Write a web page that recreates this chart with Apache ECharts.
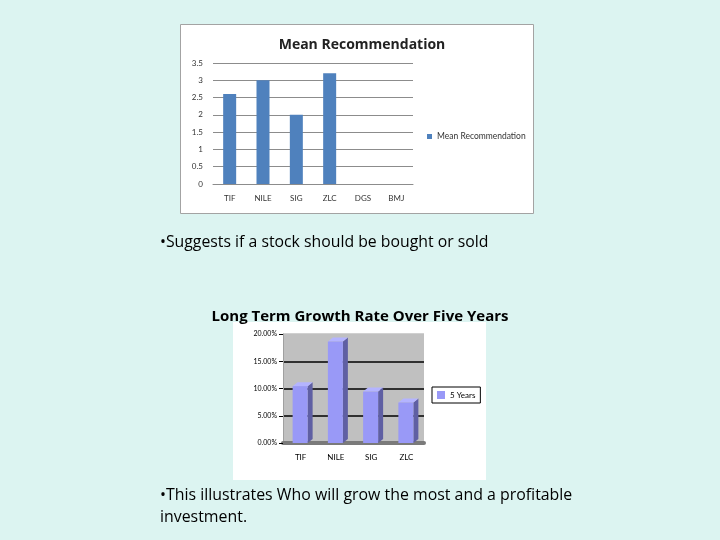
<!DOCTYPE html>
<html>
<head>
<meta charset="utf-8">
<script src="https://cdn.jsdelivr.net/npm/echarts@6/dist/echarts.min.js"></script>
<style>
  html, body { margin: 0; padding: 0; background: #dcf4f1; }
  #chart { width: 720px; height: 540px; }
</style>
</head>
<body>
<div id="chart"></div>
<script>
// chart 1: mean recommendation
const stocks = ['TIF', 'NILE', 'SIG', 'ZLC', 'DGS', 'BMJ']
const meanRec = [2.6, 3.0, 2.0, 3.2, 0, 0]

// chart 2: long term growth rate (percent)
const growthStocks = ['TIF', 'NILE', 'SIG', 'ZLC']
const growth5y = [10.8, 19.0, 9.8, 7.8]

const font = '"Open Sans"'
const smallFont = 'Lato'

const chart = echarts.init(document.getElementById('chart'))

// fake 3d column: front face, side face and top face
function column3d (params, api) {
  const p = api.coord([api.value(0), api.value(1)])
  const base = api.coord([api.value(0), 0])
  const w = 15
  const d = 5
  const x0 = p[0] - 8
  const top = p[1] + 2
  const y0 = base[1]
  return {
    type: 'group',
    children: [
      {
        type: 'polygon',
        shape: { points: [[x0 + w, top], [x0 + w + d, top - 4], [x0 + w + d, y0 - 4], [x0 + w, y0]] },
        style: { fill: '#5f5fa3' },
      },
      {
        type: 'polygon',
        shape: { points: [[x0, top], [x0 + d, top - 4], [x0 + w + d, top - 4], [x0 + w, top]] },
        style: { fill: '#b4b4ff' },
      },
      {
        type: 'rect',
        shape: { x: x0, y: top, width: w, height: y0 - top },
        style: { fill: '#9999f7' },
      },
    ],
  }
}

const option = {
  backgroundColor: '#dcf4f1',
  animation: false,
  textStyle: { fontFamily: smallFont },
  graphic: [
    {
      type: 'rect', z: -10,
      shape: { x: 180.5, y: 24.5, width: 353, height: 189 },
      style: { fill: '#fff', stroke: '#a3a3a3', lineWidth: 1 },
    },
    {
      type: 'rect', z: -10,
      shape: { x: 233, y: 322, width: 253, height: 158 },
      style: { fill: '#fff' },
    },
    {
      type: 'text', left: 160, top: 234,
      style: { text: '•Suggests if a stock should be bought or sold', font: '15.8px ' + font, fill: '#000' },
    },
    {
      type: 'text', left: 160, top: 484,
      style: {
        text: '•This illustrates Who will grow the most and a profitable\ninvestment.',
        font: '15.9px ' + font, fill: '#000', lineHeight: 22,
      },
    },
  ],
  title: [
    {
      text: 'Mean Recommendation',
      left: 357, top: 33, textAlign: 'center',
      textStyle: { fontFamily: font, fontSize: 14, fontWeight: 'bold', color: '#222' },
    },
    {
      text: 'Long Term Growth Rate Over Five Years',
      left: 355, top: 304, textAlign: 'center',
      textStyle: { fontFamily: font, fontSize: 15, fontWeight: 'bold', color: '#000' },
    },
  ],
  legend: [
    {
      left: 422, top: 127,
      itemWidth: 5, itemHeight: 5, itemGap: 3,
      textStyle: { fontSize: 8.5, color: '#333', fontFamily: smallFont },
      data: [{ name: 'Mean Recommendation', icon: 'rect' }],
    },
    {
      left: 432, top: 387,
      padding: [4, 5],
      itemWidth: 8, itemHeight: 8, itemGap: 4,
      borderColor: '#000', borderWidth: 1, backgroundColor: '#fff',
      textStyle: { fontSize: 8, color: '#000', fontFamily: smallFont },
      data: [{ name: '5 Years', icon: 'rect', itemStyle: { color: '#9999f7' } }],
    },
  ],
  grid: [
    { left: 213, top: 63, width: 200, height: 121 },
    {
      left: 283, top: 334, width: 141, height: 109,
      show: true, backgroundColor: '#c0c0c0', borderWidth: 0,
    },
  ],
  xAxis: [
    {
      type: 'category', gridIndex: 0, data: stocks,
      axisLine: { lineStyle: { color: '#8c8c8c' } },
      axisTick: { length: 4, lineStyle: { color: '#8c8c8c' } },
      axisLabel: { fontSize: 8, color: '#333', margin: 10 },
    },
    {
      type: 'category', gridIndex: 1, data: growthStocks,
      axisLine: { lineStyle: { color: '#7a7a7a', width: 4 } },
      axisTick: { length: 4, lineStyle: { color: '#000' } },
      axisLabel: { fontSize: 8, color: '#000', margin: 10 },
    },
  ],
  yAxis: [
    {
      type: 'value', gridIndex: 0, min: 0, max: 3.5, interval: 0.5,
      axisLine: { show: false },
      axisTick: { show: false },
      axisLabel: { fontSize: 8, color: '#333', margin: 10 },
      splitLine: { lineStyle: { color: '#8c8c8c' } },
    },
    {
      type: 'value', gridIndex: 1, min: 0, max: 20, interval: 5,
      axisLine: { show: true, lineStyle: { color: '#a0a0a0' } },
      axisTick: { show: true, length: 4, lineStyle: { color: '#000' } },
      axisLabel: { fontSize: 7, color: '#000', margin: 6, formatter: (v) => v.toFixed(2) + '%' },
      splitLine: { lineStyle: { color: ['#000', '#000', '#000', '#000', '#c0c0c0'], width: 1.5 } },
    },
  ],
  series: [
    {
      name: 'Mean Recommendation',
      type: 'bar',
      xAxisIndex: 0, yAxisIndex: 0,
      barWidth: 13,
      itemStyle: { color: '#4f81bd' },
      data: meanRec,
    },
    {
      name: '5 Years',
      type: 'custom',
      xAxisIndex: 1, yAxisIndex: 1,
      renderItem: column3d,
      itemStyle: { color: '#9999f7' },
      data: growth5y.map((v, i) => [i, v]),
    },
  ],
}

chart.setOption(option)
</script>
</body>
</html>
